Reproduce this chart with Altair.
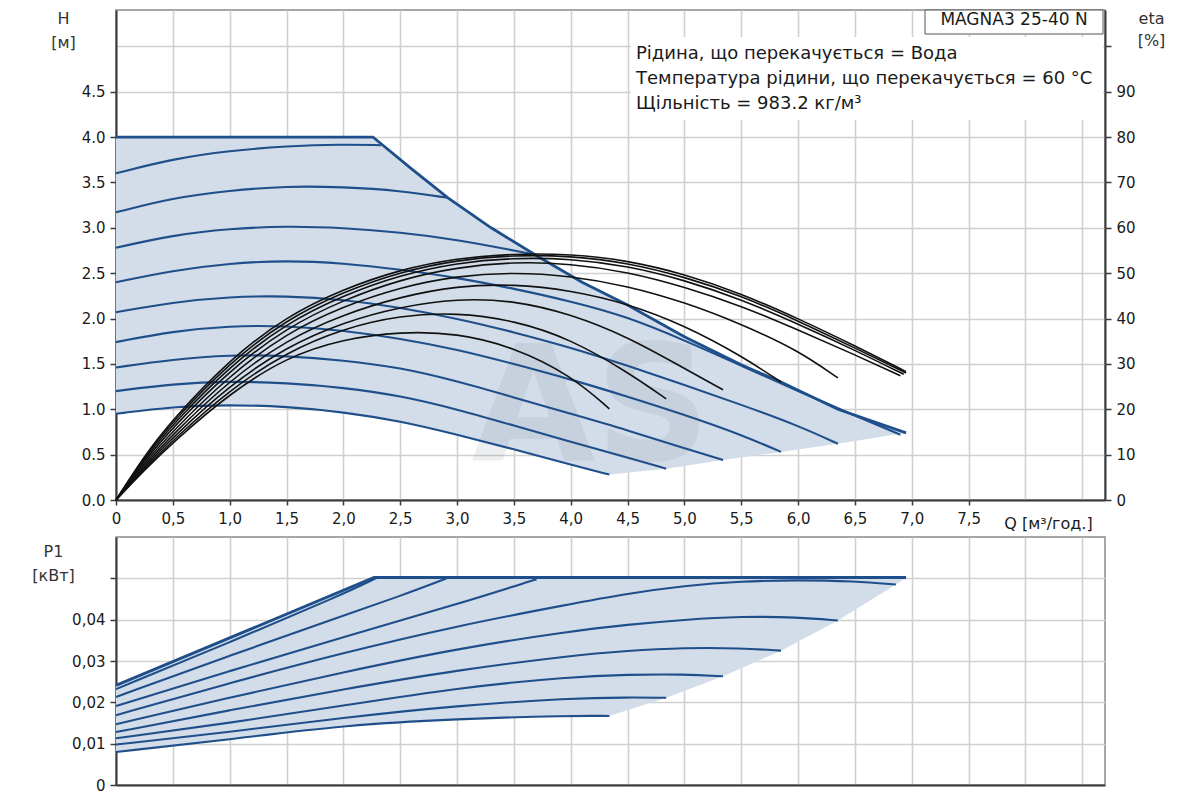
import altair as alt
import pandas as pd

# ---------------- axis ticks ----------------
Q_TICKS = [0.0, 0.5, 1.0, 1.5, 2.0, 2.5, 3.0, 3.5, 4.0, 4.5, 5.0, 5.5, 6.0, 6.5, 7.0, 7.5, 8.0, 8.5]
H_TICKS = [0.0, 0.5, 1.0, 1.5, 2.0, 2.5, 3.0, 3.5, 4.0, 4.5, 5.0]
ETA_TICKS = [0, 10, 20, 30, 40, 50, 60, 70, 80, 90, 100]
P_TICKS = [0.0, 0.01, 0.02, 0.03, 0.04, 0.05]

Q_DOMAIN = [0, 8.7]
H_DOMAIN = [0, 5.4]
ETA_DOMAIN = [0, 108]
P_DOMAIN = [0, 0.06]

# ---------------- texts ----------------
MODEL = "MAGNA3 25-40 N"
INFO_LINES = [
    "Рідина, що перекачується = Вода",
    "Температура рідини, що перекачується = 60 °C",
    "Щільність = 983.2 кг/м³",
]
WATERMARK = "AS"

# ---------------- head H (m): max envelope ----------------
H_ENV_Q = [0.0, 2.26, 2.6, 2.92, 3.3, 3.69, 4.1, 4.5, 5.0, 5.5, 5.85, 6.35, 6.95]
H_ENV_H = [4.0, 4.0, 3.65, 3.33, 3.0, 2.70, 2.40, 2.15, 1.80, 1.49, 1.30, 1.00, 0.74]

# ---------------- head H (m): speed curves ----------------
CURVES = ["A", "B", "C", "D", "E", "F", "G", "H", "I"]
H_Q = [
    [0.0, 0.5, 1.0, 1.5, 2.0, 2.33],
    [0.0, 0.5, 1.0, 1.5, 2.0, 2.5, 2.92],
    [0.0, 0.5, 1.0, 1.5, 2.0, 2.5, 3.0, 3.5, 3.66],
    [0.0, 0.5, 1.0, 1.5, 2.0, 2.5, 3.0, 3.5, 4.0, 4.5, 5.0, 5.5, 6.0, 6.5, 6.9],
    [0.0, 0.5, 1.0, 1.5, 2.0, 2.5, 3.0, 3.5, 4.0, 4.5, 5.0, 5.5, 6.0, 6.35],
    [0.0, 0.5, 1.0, 1.5, 2.0, 2.5, 3.0, 3.5, 4.0, 4.5, 5.0, 5.5, 5.85],
    [0.0, 0.5, 1.0, 1.5, 2.0, 2.5, 3.0, 3.5, 4.0, 4.5, 5.0, 5.34],
    [0.0, 0.5, 1.0, 1.5, 2.0, 2.5, 3.0, 3.5, 4.0, 4.5, 4.84],
    [0.0, 0.5, 1.0, 1.5, 2.0, 2.5, 3.0, 3.5, 4.0, 4.34],
]
H_H = [
    [3.60, 3.76, 3.85, 3.90, 3.92, 3.91],
    [3.17, 3.33, 3.41, 3.46, 3.45, 3.41, 3.33],
    [2.78, 2.92, 2.99, 3.02, 3.00, 2.95, 2.87, 2.75, 2.71],
    [2.40, 2.53, 2.61, 2.64, 2.61, 2.54, 2.45, 2.33, 2.19, 2.02, 1.76, 1.48, 1.20, 0.93, 0.72],
    [2.07, 2.18, 2.24, 2.25, 2.21, 2.12, 2.00, 1.85, 1.68, 1.48, 1.27, 1.05, 0.82, 0.62],
    [1.74, 1.86, 1.92, 1.92, 1.87, 1.78, 1.66, 1.50, 1.33, 1.14, 0.94, 0.72, 0.53],
    [1.46, 1.55, 1.60, 1.59, 1.54, 1.46, 1.31, 1.13, 0.95, 0.77, 0.57, 0.44],
    [1.20, 1.28, 1.31, 1.29, 1.24, 1.15, 1.00, 0.82, 0.64, 0.47, 0.345],
    [0.95, 1.03, 1.05, 1.03, 0.97, 0.87, 0.72, 0.56, 0.39, 0.28],
]

# shaded operating range (head)
FILL_H_Q = [0.0, 0.5, 1.0, 1.5, 2.0, 2.26, 2.6, 2.92, 3.3, 3.69, 4.1, 4.34, 4.84, 5.34, 5.85, 6.35, 6.95]
FILL_H_TOP = [4.0, 4.0, 4.0, 4.0, 4.0, 4.0, 3.65, 3.33, 3.0, 2.70, 2.40, 2.25, 1.91, 1.59, 1.30, 1.00, 0.74]
FILL_H_BOT = [0.95, 1.03, 1.05, 1.03, 0.97, 0.92, 0.83, 0.75, 0.62, 0.50, 0.36, 0.28, 0.345, 0.44, 0.53, 0.62, 0.74]

# ---------------- efficiency eta (%) ----------------
ETA_Q = [
    [0, 0.25, 0.5, 1.0, 1.5, 2.0, 2.5, 3.0, 3.5, 4.0, 4.5, 5.0, 5.5, 6.0, 6.5, 6.95],
    [0, 0.25, 0.5, 1.0, 1.5, 2.0, 2.5, 3.0, 3.5, 4.0, 4.5, 5.0, 5.5, 6.0, 6.5, 6.95],
    [0, 0.25, 0.5, 1.0, 1.5, 2.0, 2.5, 3.0, 3.5, 4.0, 4.5, 5.0, 5.5, 6.0, 6.5, 6.93],
    [0, 0.25, 0.5, 1.0, 1.5, 2.0, 2.5, 3.0, 3.5, 4.0, 4.5, 5.0, 5.5, 6.0, 6.5, 6.90],
    [0, 0.25, 0.5, 1.0, 1.5, 2.0, 2.5, 3.0, 3.5, 4.0, 4.5, 5.0, 5.5, 6.0, 6.35],
    [0, 0.25, 0.5, 1.0, 1.5, 2.0, 2.5, 3.0, 3.5, 4.0, 4.5, 5.0, 5.5, 5.85],
    [0, 0.25, 0.5, 1.0, 1.5, 2.0, 2.5, 3.0, 3.5, 4.0, 4.5, 5.0, 5.34],
    [0, 0.25, 0.5, 1.0, 1.5, 2.0, 2.5, 3.0, 3.5, 4.0, 4.5, 4.84],
    [0, 0.25, 0.5, 1.0, 1.5, 2.0, 2.5, 3.0, 3.5, 4.0, 4.34],
]
ETA_V = [
    [0, 9.8, 17.8, 31.0, 40.5, 46.5, 50.8, 53.3, 54.3, 54.2, 52.8, 49.8, 45.5, 40.0, 34.0, 28.3],
    [0, 9.5, 17.3, 30.3, 39.8, 45.9, 50.3, 52.9, 54.0, 53.8, 52.3, 49.2, 45.0, 39.5, 33.5, 28.0],
    [0, 9.1, 16.7, 29.5, 39.0, 45.1, 49.6, 52.3, 53.4, 53.2, 51.6, 48.5, 44.2, 38.8, 33.0, 27.7],
    [0, 8.7, 16.0, 28.6, 38.0, 44.1, 48.6, 51.3, 52.5, 52.1, 50.3, 47.0, 42.8, 37.5, 32.0, 27.4],
    [0, 8.2, 15.2, 27.5, 36.8, 42.7, 46.9, 49.4, 50.2, 49.4, 47.2, 43.6, 38.8, 33.0, 26.9],
    [0, 7.7, 14.5, 26.4, 35.3, 40.9, 44.8, 47.2, 47.6, 46.2, 43.3, 38.5, 31.8, 26.0],
    [0, 7.3, 13.8, 25.3, 33.8, 39.2, 42.6, 44.4, 44.0, 41.0, 36.0, 29.0, 24.3],
    [0, 6.9, 13.2, 24.3, 32.6, 37.8, 40.7, 41.3, 39.6, 35.5, 28.2, 22.3],
    [0, 6.6, 12.7, 23.5, 31.5, 35.5, 37.1, 36.8, 33.7, 27.5, 20.1],
]

# ---------------- power P1 (kW) ----------------
P_ENV_Q = [0.0, 2.27, 6.95]
P_ENV_P = [0.0241, 0.0502, 0.0502]

P_Q = [
    [0.0, 1.0, 2.0, 2.3],
    [0.0, 1.0, 2.0, 2.5, 2.91],
    [0.0, 1.0, 2.0, 3.0, 3.7],
    [0.0, 1.0, 2.0, 3.0, 4.0, 4.5, 5.0, 5.5, 6.0, 6.5, 6.86],
    [0.0, 1.0, 2.0, 3.0, 4.0, 4.5, 5.0, 5.5, 6.0, 6.35],
    [0.0, 1.0, 2.0, 3.0, 4.0, 4.5, 5.0, 5.5, 5.85],
    [0.0, 1.0, 2.0, 3.0, 4.0, 4.5, 5.0, 5.34],
    [0.0, 1.0, 2.0, 3.0, 4.0, 4.5, 4.84],
    [0.0, 1.0, 2.0, 3.0, 4.0, 4.34],
]
P_P = [
    [0.0232, 0.0345, 0.0462, 0.0502],
    [0.0213, 0.0313, 0.0410, 0.0457, 0.0500],
    [0.0191, 0.0276, 0.0358, 0.0437, 0.0498],
    [0.0169, 0.0247, 0.0320, 0.0385, 0.0438, 0.0463, 0.0482, 0.0493, 0.0496, 0.0493, 0.0485],
    [0.0147, 0.0212, 0.0273, 0.0330, 0.0372, 0.0388, 0.0400, 0.0408, 0.0406, 0.0398],
    [0.0128, 0.0181, 0.0232, 0.0278, 0.0313, 0.0325, 0.0332, 0.0331, 0.0325],
    [0.0113, 0.0150, 0.0192, 0.0235, 0.0262, 0.0267, 0.0268, 0.0263],
    [0.0098, 0.0128, 0.0163, 0.0192, 0.0210, 0.0212, 0.0211],
    [0.0080, 0.0110, 0.0145, 0.0160, 0.0168, 0.0167],
]

FILL_P_Q = [0.0, 1.0, 2.0, 2.27, 3.0, 4.0, 4.34, 4.84, 5.34, 5.85, 6.35, 6.86, 6.95]
FILL_P_TOP = [0.0241, 0.0356, 0.0471, 0.0502, 0.0502, 0.0502, 0.0502, 0.0502, 0.0502, 0.0502, 0.0502, 0.0502, 0.0502]
FILL_P_BOT = [0.0080, 0.0110, 0.0145, 0.0150, 0.0160, 0.0168, 0.0167, 0.0211, 0.0263, 0.0325, 0.0398, 0.0485, 0.0502]

# ---------------- styling ----------------
FONT = "DejaVu Sans"
FILL_COLOR = "#d3dde9"
BLUE = "#1f4f8a"
BLACK = "#111111"
AXIS_COLOR = "#3a3a3a"
GRID_COLOR = "#d0d0d0"
W, H_TOP, H_BOT = 989, 490, 248


def long_df(names, qs, vs, field):
    rows = []
    for n, ql, vl in zip(names, qs, vs):
        for i, (q, v) in enumerate(zip(ql, vl)):
            rows.append({"curve": n, "q": q, field: v, "i": i})
    return pd.DataFrame(rows)


h_curves = long_df(CURVES, H_Q, H_H, "h")
h_env = pd.DataFrame({"q": H_ENV_Q, "h": H_ENV_H})
h_fill = pd.DataFrame({"q": FILL_H_Q, "top": FILL_H_TOP, "bot": FILL_H_BOT})
eta_curves = long_df(CURVES, ETA_Q, ETA_V, "eta")
p_curves = long_df(CURVES, P_Q, P_P, "p")
p_env = pd.DataFrame({"q": P_ENV_Q, "p": P_ENV_P})
p_fill = pd.DataFrame({"q": FILL_P_Q, "top": FILL_P_TOP, "bot": FILL_P_BOT})

# ---------------- axes / scales ----------------
q_scale = alt.Scale(domain=Q_DOMAIN, nice=False, zero=False)
h_scale = alt.Scale(domain=H_DOMAIN, nice=False)
eta_scale = alt.Scale(domain=ETA_DOMAIN, nice=False)
p_scale = alt.Scale(domain=P_DOMAIN, nice=False)

x_axis_top = alt.Axis(
    values=Q_TICKS, grid=True, labelOverlap=False, labelFlush=False,
    labelExpr="datum.value >= 8 ? '' : (datum.value == 0 ? '0' : replace(format(datum.value, '.1f'), '.', ','))",
    tickSize=5, labelPadding=6, labelFontSize=15,
    tickColor={"condition": {"test": "datum.value >= 8", "value": "transparent"}, "value": AXIS_COLOR},
    title="Q [м³/год.]", titleX=932, titleY=23, titleAlign="center", titleBaseline="middle",
    titleFontSize=16, titleColor="#1a1a1a",
)
x_axis_bot = alt.Axis(values=Q_TICKS, grid=True, labels=False, ticks=False, title=None)

h_axis = alt.Axis(
    values=H_TICKS, grid=True, labelOverlap=False, labelFlush=False,
    labelExpr="datum.value >= 5 ? '' : format(datum.value, '.1f')",
    tickSize=6, labelPadding=5,
    tickColor={"condition": {"test": "datum.value >= 5", "value": "transparent"}, "value": AXIS_COLOR},
    title=["H", "[м]"], titleAngle=0, titleX=-53, titleY=0, titleAlign="center",
    titleBaseline="top", titleLineHeight=24,
)
eta_axis = alt.Axis(
    orient="right", values=ETA_TICKS, grid=False, labelOverlap=False, labelFlush=False,
    labelExpr="datum.value >= 100 ? '' : format(datum.value, 'd')",
    tickSize=6, labelPadding=5,
    title=["eta", "[%]"], titleAngle=0, titleX=46, titleY=0, titleAlign="center",
    titleBaseline="top", titleLineHeight=22,
)
p_axis = alt.Axis(
    values=P_TICKS, grid=True, labelOverlap=False, labelFlush=False,
    labelExpr="datum.value >= 0.05 ? '' : (datum.value == 0 ? '0' : replace(format(datum.value, '.2f'), '.', ','))",
    tickSize=6, labelPadding=5,
    title=["P1", "[кВт]"], titleAngle=0, titleX=-63, titleY=6, titleAlign="center",
    titleBaseline="top", titleLineHeight=24,
)

xq_top = alt.X("q:Q", scale=q_scale, axis=x_axis_top)
xq_bot = alt.X("q:Q", scale=q_scale, axis=x_axis_bot)

# ---------------- top panel ----------------
h_fill_layer = alt.Chart(h_fill).mark_area(color=FILL_COLOR, opacity=1, interpolate="linear").encode(
    x=xq_top, y=alt.Y("top:Q", scale=h_scale, axis=h_axis), y2="bot:Q"
)
watermark = alt.Chart(pd.DataFrame({"t": [WATERMARK]})).mark_text(
    font=FONT, fontWeight="bold", fontSize=160, color="#7d8590", opacity=0.13,
    align="center", baseline="alphabetic",
).encode(x=alt.value(475), y=alt.value(450), text="t:N")
h_lines = alt.Chart(h_curves).mark_line(color=BLUE, strokeWidth=2.1, interpolate="basis").encode(
    x=xq_top, y=alt.Y("h:Q", scale=h_scale, axis=h_axis), detail="curve:N", order="i:Q"
)
h_env_line = alt.Chart(h_env).mark_line(color=BLUE, strokeWidth=2.8, interpolate="linear").encode(
    x=xq_top, y=alt.Y("h:Q", scale=h_scale, axis=h_axis), order=alt.Order("q:Q")
)
h_group = alt.layer(h_fill_layer, watermark, h_lines, h_env_line)

eta_lines = alt.Chart(eta_curves).mark_line(color=BLACK, strokeWidth=1.6, interpolate="basis").encode(
    x=xq_top, y=alt.Y("eta:Q", scale=eta_scale, axis=eta_axis), detail="curve:N", order="i:Q"
)

info_box = alt.Chart(pd.DataFrame({"k": [0]})).mark_rect(color="white").encode(
    x=alt.value(515), x2=alt.value(987), y=alt.value(27), y2=alt.value(110)
)
info_text = alt.Chart(pd.DataFrame({"t": ["\n".join(INFO_LINES)]})).mark_text(
    font=FONT, fontSize=18, color="#1a1a1a", align="left", baseline="alphabetic",
    lineBreak="\n", lineHeight=25,
).encode(x=alt.value(520), y=alt.value(49), text="t:N")
model_box = alt.Chart(pd.DataFrame({"k": [0]})).mark_rect(fill="white", stroke="#555555", strokeWidth=1).encode(
    x=alt.value(809), x2=alt.value(987), y=alt.value(0), y2=alt.value(24)
)
model_text = alt.Chart(pd.DataFrame({"t": [MODEL]})).mark_text(
    font=FONT, fontSize=17, color="#1a1a1a", align="center", baseline="middle"
).encode(x=alt.value(898), y=alt.value(10), text="t:N")

top = alt.layer(h_group, eta_lines, info_box, info_text, model_box, model_text).resolve_scale(
    y="independent"
).properties(width=W, height=H_TOP)

# ---------------- bottom panel ----------------
p_fill_layer = alt.Chart(p_fill).mark_area(color=FILL_COLOR, opacity=1, interpolate="linear").encode(
    x=xq_bot, y=alt.Y("top:Q", scale=p_scale, axis=p_axis), y2="bot:Q"
)
p_lines = alt.Chart(p_curves).mark_line(color=BLUE, strokeWidth=2.1, interpolate="basis").encode(
    x=xq_bot, y=alt.Y("p:Q", scale=p_scale, axis=p_axis), detail="curve:N", order="i:Q"
)
p_env_line = alt.Chart(p_env).mark_line(color=BLUE, strokeWidth=2.8, interpolate="linear").encode(
    x=xq_bot, y=alt.Y("p:Q", scale=p_scale, axis=p_axis), order=alt.Order("q:Q")
)
bottom = alt.layer(p_fill_layer, p_lines, p_env_line).properties(width=W, height=H_BOT)

chart = alt.vconcat(top, bottom, spacing=37, bounds="flush").properties(
    padding={"left": 23, "top": 0, "right": 10, "bottom": 5}
).configure_view(
    stroke="#8a8a8a", strokeWidth=1.5
).configure_axis(
    domainColor=AXIS_COLOR, domainWidth=2, gridColor=GRID_COLOR, gridWidth=1.6,
    tickColor=AXIS_COLOR, tickWidth=1.5,
    labelFont=FONT, labelFontSize=15, labelColor="#1a1a1a",
    titleFont=FONT, titleFontSize=16, titleColor="#333333", titleFontWeight="normal",
).configure_text(font=FONT)

chart.save("out.html", embed_options={"renderer": "svg", "actions": False})
